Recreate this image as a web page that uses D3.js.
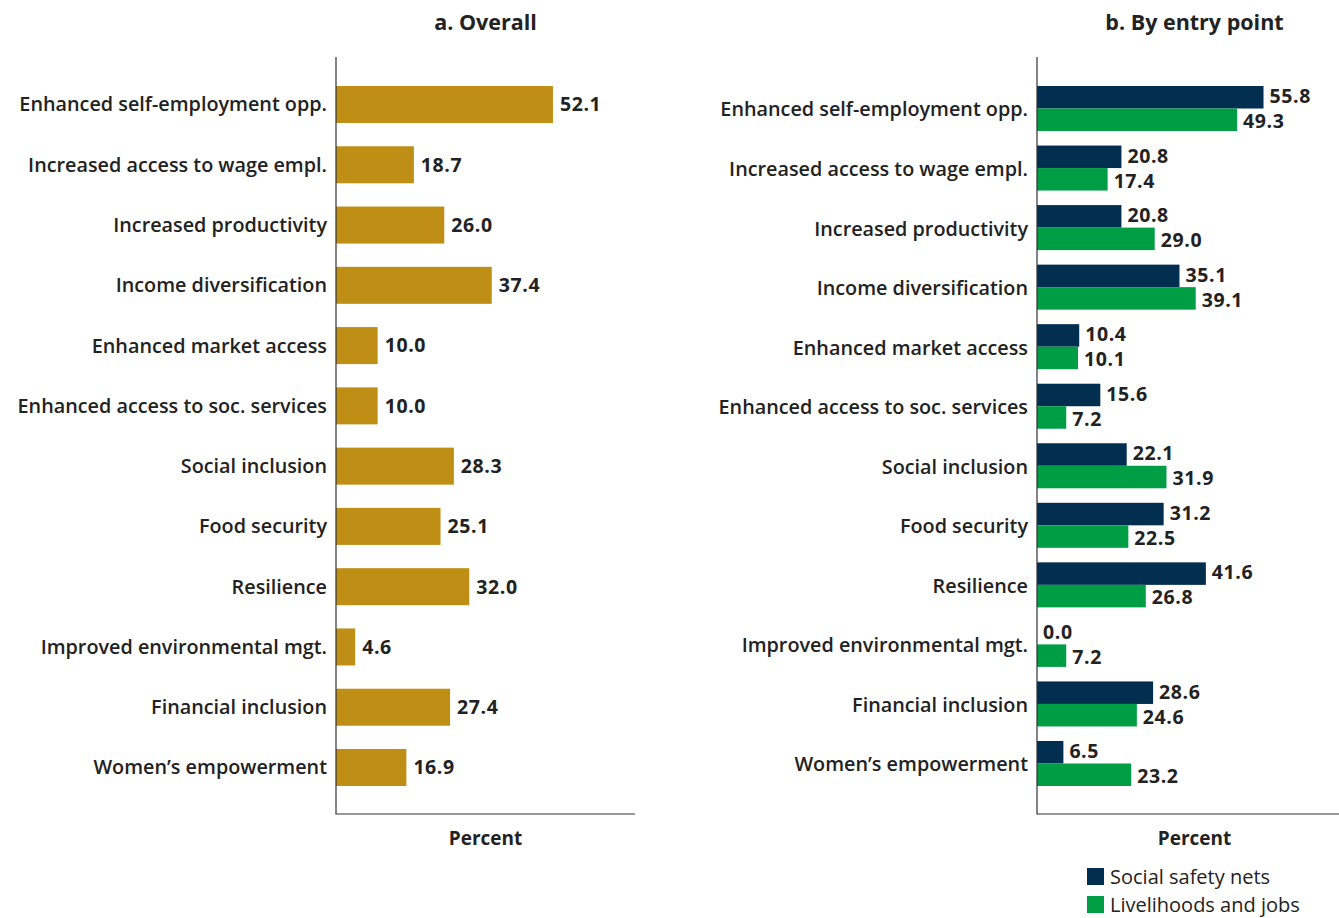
<!DOCTYPE html>
<html><head><meta charset="utf-8">
<script src="https://cdn.jsdelivr.net/npm/d3@7"></script>
<style>
body{margin:0;background:#fff;}
text{font-family:"Open Sans",sans-serif;fill:#222;}
</style></head>
<body>
<svg id="chart" width="1339" height="918"></svg>
<script>
const categories = ["Enhanced self-employment opp.","Increased access to wage empl.","Increased productivity","Income diversification","Enhanced market access","Enhanced access to soc. services","Social inclusion","Food security","Resilience","Improved environmental mgt.","Financial inclusion","Women\u2019s empowerment"];
const overall = [52.1,18.7,26.0,37.4,10.0,10.0,28.3,25.1,32.0,4.6,27.4,16.9];
const socialSafetyNets = [55.8,20.8,20.8,35.1,10.4,15.6,22.1,31.2,41.6,0.0,28.6,6.5];
const livelihoodsJobs = [49.3,17.4,29.0,39.1,10.1,7.2,31.9,22.5,26.8,7.2,24.6,23.2];
const seriesNames = ["Social safety nets","Livelihoods and jobs"];
const panelTitles = ["a. Overall","b. By entry point"];
const axisTitle = "Percent";

const GOLD="#BF8E15", NAVY="#022E4F", GREEN="#009E44";
const svg = d3.select("#chart");
const labelFont = 'font-size:19.8px;font-weight:600';
const valFont = 'font-size:19.5px;font-weight:700;letter-spacing:0.6px';
const titleFont = 'font-size:21.5px;font-weight:700';
const axFont = 'font-size:19px;font-weight:700';

// Panel A
const xa = d3.scaleLinear().domain([0,71.8]).range([336,635]);
const ya = d3.scaleBand().domain(categories).range([86,786]).paddingInner(0.386).paddingOuter(0);
const gA = svg.append("g");
gA.selectAll("rect").data(categories).join("rect")
  .attr("x",xa(0)).attr("y",d=>ya(d)).attr("height",ya.bandwidth())
  .attr("width",(d,i)=>xa(overall[i])-xa(0)).attr("fill",GOLD);
gA.selectAll("text.val").data(categories).join("text").attr("class","val")
  .attr("x",(d,i)=>xa(overall[i])+7).attr("y",d=>ya(d)+ya.bandwidth()/2).attr("dy","0.35em")
  .attr("style",valFont).text((d,i)=>overall[i].toFixed(1));
gA.selectAll("text.cat").data(categories).join("text").attr("class","cat")
  .attr("x",327).attr("y",d=>ya(d)+ya.bandwidth()/2).attr("dy","0.35em").attr("text-anchor","end")
  .attr("style",labelFont).text(d=>d);
gA.append("path").attr("d",`M${xa(0)},57V814H${xa.range()[1]}`).attr("fill","none").attr("stroke","#333").attr("stroke-width",1.2);
gA.append("text").attr("x",(xa.range()[0]+xa.range()[1])/2).attr("y",30).attr("text-anchor","middle")
  .attr("style",titleFont).text(panelTitles[0]);
gA.append("text").attr("x",(xa.range()[0]+xa.range()[1])/2).attr("y",845).attr("text-anchor","middle")
  .attr("style",axFont).text(axisTitle);

// Panel B
const xb = d3.scaleLinear().domain([0,77.6]).range([1037,1352]);
const yb = d3.scaleBand().domain(categories).range([86,786]).paddingInner(0.244).paddingOuter(0);
const ys = d3.scaleBand().domain(seriesNames).range([0,yb.bandwidth()]);
const gB = svg.append("g");
const series = [socialSafetyNets, livelihoodsJobs];
const colors = [NAVY, GREEN];
const labelShift = [-1, 1.5];
series.forEach((vals,si)=>{
  gB.selectAll(`rect.s${si}`).data(categories).join("rect").attr("class",`s${si}`)
    .attr("x",xb(0)).attr("y",d=>yb(d)+ys(seriesNames[si])).attr("height",ys.bandwidth())
    .attr("width",(d,i)=>xb(vals[i])-xb(0)).attr("fill",colors[si]);
  gB.selectAll(`text.v${si}`).data(categories).join("text").attr("class",`v${si}`)
    .attr("x",(d,i)=>xb(vals[i])+6).attr("y",d=>yb(d)+ys(seriesNames[si])+ys.bandwidth()/2+labelShift[si]).attr("dy","0.35em")
    .attr("style",valFont).text((d,i)=>vals[i].toFixed(1));
});
gB.selectAll("text.cat").data(categories).join("text").attr("class","cat")
  .attr("x",1028).attr("y",d=>yb(d)+yb.bandwidth()/2+1).attr("dy","0.35em").attr("text-anchor","end")
  .attr("style",labelFont).text(d=>d);
gB.append("path").attr("d",`M${xb(0)},57V814H${xb.range()[1]}`).attr("fill","none").attr("stroke","#333").attr("stroke-width",1.2);
gB.append("text").attr("x",(xb.range()[0]+xb.range()[1])/2).attr("y",30).attr("text-anchor","middle")
  .attr("style",titleFont).text(panelTitles[1]);
gB.append("text").attr("x",(xb.range()[0]+xb.range()[1])/2).attr("y",845).attr("text-anchor","middle")
  .attr("style",axFont).text(axisTitle);

// Legend
const leg = svg.append("g");
seriesNames.forEach((n,i)=>{
  leg.append("rect").attr("x",1087).attr("y",868+i*28).attr("width",17).attr("height",17).attr("fill",colors[i]);
  leg.append("text").attr("x",1110).attr("y",884+i*28).attr("style","font-size:20px;font-weight:400").text(n);
});
</script>
</body></html>
